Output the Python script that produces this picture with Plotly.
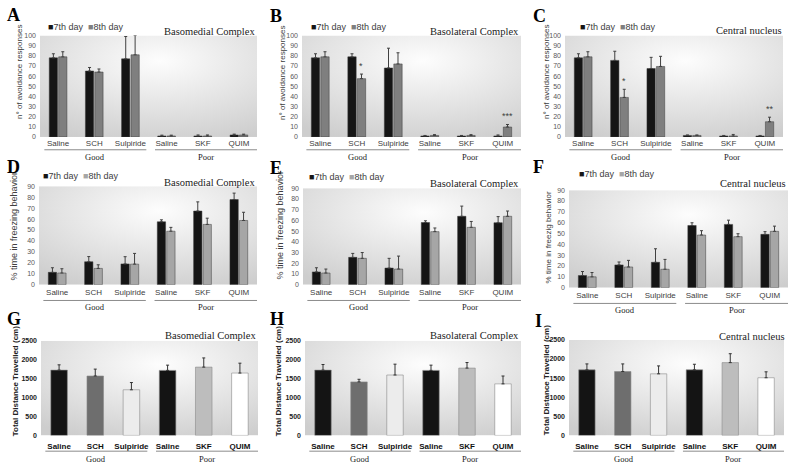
import base64
import plotly.graph_objects as go

W, H = 789, 466

categories = ["Saline", "SCH", "Sulpiride", "Saline", "SKF", "QUIM"]
group_labels = ["Good", "Poor"]
day_names = ["7th day", "8th day"]

# Panels A-C: n° of avoidance responses
bm_avoid_7 = [78, 65, 77, 1, 1, 2]
bm_avoid_7_err = [4, 3.5, 22, 0.8, 1, 0.8]
bm_avoid_8 = [79, 64, 81, 1, 1, 2]
bm_avoid_8_err = [5, 3, 19, 0.8, 1, 0.8]

bl_avoid_7 = [78, 79, 68, 1, 1, 1]
bl_avoid_7_err = [4, 3, 19.5, 0.5, 0.5, 1]
bl_avoid_8 = [79, 57.5, 72, 1.5, 1.5, 9.8]
bl_avoid_8_err = [5, 4.5, 11, 0.8, 0.8, 2.5]

ce_avoid_7 = [78, 75.5, 67.5, 1.5, 1, 1]
ce_avoid_7_err = [4, 9, 11, 0.5, 0.5, 0.5]
ce_avoid_8 = [79, 39, 69.5, 1.5, 1, 15]
ce_avoid_8_err = [5, 8, 10, 0.5, 1.5, 4.5]

# Panels D-F: % time in freezing behavior
bm_freeze_7 = [11.3, 21, 19, 57.5, 67.3, 77.8]
bm_freeze_7_err = [4.2, 4.7, 6.6, 1.8, 8.4, 5.9]
bm_freeze_8 = [10.7, 14.9, 18.8, 48.9, 55.1, 58.7]
bm_freeze_8_err = [3.9, 3.3, 9.8, 3.5, 5.7, 7.5]

bl_freeze_7 = [11.9, 25.5, 15.5, 58, 63.8, 57.8]
bl_freeze_7_err = [3.9, 3.7, 9.1, 1.6, 9.5, 5.7]
bl_freeze_8 = [10.9, 24.6, 14.6, 49.5, 53.5, 63.8]
bl_freeze_8_err = [3.7, 5.4, 12.1, 3.4, 5.5, 4.9]

ce_freeze_7 = [11.2, 21, 23.4, 57.4, 58.4, 49.2]
ce_freeze_7_err = [3.7, 2.7, 12.5, 2.5, 3.9, 2.5]
ce_freeze_8 = [10, 19.1, 17, 48.6, 47.1, 52]
ce_freeze_8_err = [4, 6.1, 9.1, 4, 2.7, 4.8]

# Panels G-I: Total distance travelled (cm)
bm_dist = [1727, 1571, 1207, 1719, 1806, 1649]
bm_dist_err = [139, 182, 191, 139, 243, 261]
bl_dist = [1727, 1415, 1597, 1719, 1780, 1363]
bl_dist_err = [148, 69, 287, 139, 147, 208]
ce_dist = [1716, 1672, 1612, 1716, 1905, 1509]
ce_dist_err = [155, 199, 207, 146, 233, 155]

dist_colors = ["#141414", "#6e6e6e", "#ececec", "#141414", "#bdbdbd", "#ffffff"]

avoid_ticks = list(range(0, 101, 10))
freeze_ticks = list(range(0, 91, 10))
dist_ticks = list(range(0, 2501, 500))

# significance marks: (panel, category index, text)
stars = [("B", 1, "*"), ("B", 5, "***"), ("C", 1, "*"), ("C", 5, "**")]

panels = [
    dict(letter="A", title="Basomedial Complex", ytitle="n° of avoidance responses", kind="avoid",
         d7=bm_avoid_7, e7=bm_avoid_7_err, d8=bm_avoid_8, e8=bm_avoid_8_err,
         dom=(40, 257, 32, 135), let=(5, 11), tit=(257, 28), leg=(46, 23), yt=(20, 69)),
    dict(letter="B", title="Basolateral Complex", ytitle="n° of avoidance responses", kind="avoid",
         d7=bl_avoid_7, e7=bl_avoid_7_err, d8=bl_avoid_8, e8=bl_avoid_8_err,
         dom=(302, 521, 32, 135), let=(268, 12), tit=(521, 28), leg=(309, 23), yt=(283, 70)),
    dict(letter="C", title="Central nucleus", ytitle="n° of avoidance responses", kind="avoid",
         d7=ce_avoid_7, e7=ce_avoid_7_err, d8=ce_avoid_8, e8=ce_avoid_8_err,
         dom=(565, 783, 32, 135), let=(531, 12), tit=(784, 27), leg=(578, 23), yt=(547, 69)),
    dict(letter="D", title="Basomedial Complex", ytitle="% time in freezing behavior", kind="freeze",
         d7=bm_freeze_7, e7=bm_freeze_7_err, d8=bm_freeze_8, e8=bm_freeze_8_err,
         dom=(39, 257, 185, 285), let=(5, 165), tit=(257, 181), leg=(41, 175), yt=(14, 226)),
    dict(letter="E", title="Basolateral Complex", ytitle="% time in freezing behavior", kind="freeze",
         d7=bl_freeze_7, e7=bl_freeze_7_err, d8=bl_freeze_8, e8=bl_freeze_8_err,
         dom=(303, 521, 187, 285), let=(268, 166), tit=(521, 182), leg=(307, 176), yt=(280, 225)),
    dict(letter="F", title="Central nucleus", ytitle="% time in freezig behavior", kind="freeze",
         d7=ce_freeze_7, e7=ce_freeze_7_err, d8=ce_freeze_8, e8=ce_freeze_8_err,
         dom=(569, 788, 189, 288), let=(531, 165), tit=(788, 182), leg=(577, 173), yt=(548, 237)),
    dict(letter="G", title="Basomedial Complex", ytitle="Total Distance Travelled (cm)", kind="dist",
         d=bm_dist, e=bm_dist_err,
         dom=(41, 258, 342, 438), let=(5, 320), tit=(258, 337), yt=(15, 383)),
    dict(letter="H", title="Basolateral Complex", ytitle="Total Distance Travelled (cm)", kind="dist",
         d=bl_dist, e=bl_dist_err,
         dom=(305, 521, 342, 438), let=(268, 320), tit=(521, 337), yt=(278, 383)),
    dict(letter="I", title="Central nucleus", ytitle="Total Distance Travelled (cm)", kind="dist",
         d=ce_dist, e=ce_dist_err,
         dom=(569, 784, 341, 438), let=(533, 322), tit=(787, 338), yt=(546, 382)),
]

svg = ('<svg xmlns="http://www.w3.org/2000/svg" width="200" height="100" viewBox="0 0 200 100" '
       'preserveAspectRatio="none"><defs><radialGradient id="g" cx="0.55" cy="0.25" r="0.85">'
       '<stop offset="0" stop-color="#fdfdfd"/><stop offset="1" stop-color="#cdcdcd"/>'
       '</radialGradient></defs><rect width="200" height="100" fill="url(#g)"/></svg>')
bg_uri = "data:image/svg+xml;base64," + base64.b64encode(svg.encode()).decode()

SANS = "Liberation Sans"
SERIF = "Liberation Serif"

fig = go.Figure()
layout = dict(width=W, height=H, margin=dict(l=0, r=0, t=0, b=0),
              paper_bgcolor="white", plot_bgcolor="rgba(0,0,0,0)",
              barmode="group", bargap=0.48, bargroupgap=0.12, showlegend=False)
annotations, shapes, images = [], [], []
xs = list(range(len(categories)))


def px_x(v):
    return v / W


def px_y(v):
    return 1 - v / H


for i, p in enumerate(panels):
    n = i + 1
    sfx = "" if n == 1 else str(n)
    xa, ya = "x" + sfx, "y" + sfx
    x0, x1, y0, y1 = p["dom"]
    kind = p["kind"]
    if kind in ("avoid", "freeze"):
        c8 = "#7f7f7f" if kind == "avoid" else "#a6a6a6"
        for name, vals, errs, col in ((day_names[0], p["d7"], p["e7"], "#151515"),
                                      (day_names[1], p["d8"], p["e8"], c8)):
            fig.add_trace(go.Bar(
                x=xs, y=vals, name=name, xaxis=xa, yaxis=ya,
                marker=dict(color=col, line=dict(color="#3a3a3a", width=0.5)),
                error_y=dict(type="data", array=errs, arrayminus=[0] * len(errs), symmetric=False,
                             color="#404040", thickness=1, width=1.5),
                showlegend=False))
        ticks = avoid_ticks if kind == "avoid" else freeze_ticks
        yrange = [0, ticks[-1]]
        tickfont = dict(family=SANS, size=7, color="#595959")
        catfont = dict(family=SANS, size=8, color="#404040")
        ytfont = dict(family=SANS, size=8 if kind == "avoid" else 9, color="#404040")
        if p["letter"] == "F":
            ytfont["size"] = 8
        annotations.append(dict(
            text='<span style="color:#151515">■</span>7th day  <span style="color:%s">■</span>8th day' % c8,
            x=px_x(p["leg"][0]), y=px_y(p["leg"][1]), xref="paper", yref="paper",
            xanchor="left", yanchor="middle", showarrow=False,
            font=dict(family=SANS, size=9, color="#404040")))
        for (pl, ci, txt) in stars:
            if pl == p["letter"]:
                annotations.append(dict(
                    text=txt, x=ci + 0.13, y=p["d8"][ci] + p["e8"][ci], xref=xa, yref=ya,
                    xanchor="center", yanchor="bottom", yshift=1, showarrow=False,
                    font=dict(family=SANS, size=9, color="#404040")))
        standoff = 0 if kind == "avoid" else 1
    else:
        fig.add_trace(go.Bar(
            x=xs, y=p["d"], name="Distance", xaxis=xa, yaxis=ya,
            marker=dict(color=dist_colors, line=dict(color="#8a8a8a", width=0.6)),
            error_y=dict(type="data", array=p["e"], arrayminus=[0] * 6, symmetric=False,
                         color="#333333", thickness=1, width=1.5),
            showlegend=False))
        ticks = dist_ticks
        yrange = [0, ticks[-1]]
        tickfont = dict(family=SANS, size=7, color="#222222", weight="bold")
        catfont = dict(family=SANS, size=8, color="#111111", weight="bold")
        ytfont = dict(family=SANS, size=8, color="#222222", weight="bold")
        standoff = 5

    layout["xaxis" + sfx] = dict(domain=[px_x(x0), px_x(x1)], anchor=ya, range=[-0.5, 5.5],
                                 tickvals=xs, ticktext=categories, tickfont=catfont,
                                 showgrid=False, zeroline=False, showline=False, ticks="",
                                 ticklabelstandoff=standoff, fixedrange=True)
    layout["yaxis" + sfx] = dict(domain=[px_y(y1), px_y(y0)], anchor=xa, range=yrange,
                                 tickvals=ticks, tickfont=tickfont, showgrid=False,
                                 zeroline=False, showline=False, ticks="", ticklabelstandoff=3,
                                 fixedrange=True)

    images.append(dict(source=bg_uri, xref="paper", yref="paper", x=px_x(x0), y=px_y(y0),
                       sizex=(x1 - x0) / W, sizey=(y1 - y0) / H, xanchor="left", yanchor="top",
                       sizing="stretch", layer="below"))

    annotations.append(dict(text="<b>%s</b>" % p["letter"], x=px_x(p["let"][0]), y=px_y(p["let"][1]),
                            xref="paper", yref="paper", xanchor="left", yanchor="middle",
                            showarrow=False, font=dict(family=SERIF, size=18, color="black")))
    annotations.append(dict(text=p["title"], x=px_x(p["tit"][0]), y=px_y(p["tit"][1]),
                            xref="paper", yref="paper", xanchor="right", yanchor="middle",
                            showarrow=False, font=dict(family=SERIF, size=10.5, color="#222222")))
    annotations.append(dict(text=p["ytitle"], x=px_x(p["yt"][0]), y=px_y(p["yt"][1]),
                            xref="paper", yref="paper", xanchor="center", yanchor="middle",
                            textangle=-90, showarrow=False, font=ytfont))
    line_y = y1 + (13 if kind == "avoid" else 16)
    lab_y = line_y + (7 if kind != "dist" else 8)
    for (g0, g1), gl in (((0.02, 0.49), group_labels[0]), ((0.53, 1.0), group_labels[1])):
        shapes.append(dict(type="line", xref=xa + " domain", yref="paper", x0=g0, x1=g1,
                           y0=px_y(line_y), y1=px_y(line_y), line=dict(color="#8c8c8c", width=1)))
        annotations.append(dict(text=gl, x=(g0 + g1) / 2, y=px_y(lab_y), xref=xa + " domain",
                                yref="paper", xanchor="center", yanchor="middle", showarrow=False,
                                font=dict(family=SERIF, size=8.5, color="#222222")))

layout["annotations"] = annotations
layout["shapes"] = shapes
layout["images"] = images
fig.update_layout(**layout)
fig.write_html("out.html", config={"displayModeBar": False},
               post_script="document.body.style.margin='0px';document.body.style.overflow='hidden';")
